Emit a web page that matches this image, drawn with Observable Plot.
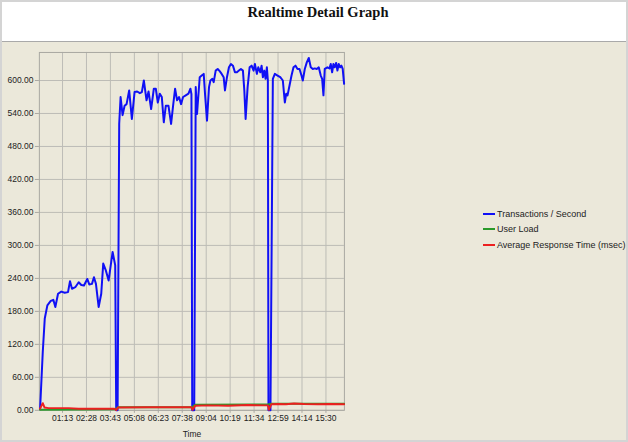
<!DOCTYPE html>
<html><head><meta charset="utf-8">
<script src="https://cdn.jsdelivr.net/npm/d3@7"></script>
<script src="https://cdn.jsdelivr.net/npm/@observablehq/plot@0.6"></script>
<style>
html,body{margin:0;padding:0;background:#fff;}
#frame{position:relative;width:628px;height:442px;box-sizing:border-box;border:2px solid #d4d4d4;background:#ebe8da;overflow:hidden;font-family:"Liberation Sans",Arial,sans-serif;}
#title{position:absolute;left:0;top:0;width:624px;height:39px;background:#fff;border-bottom:1px solid #a9a9a9;}
#title span{position:absolute;left:8px;right:0;top:3px;text-align:center;font:bold 14.5px/14.5px "Liberation Serif","Times New Roman",serif;color:#111;}
#chart{position:absolute;left:-2px;top:40px;}
#chart svg{background:transparent;}
#legend{position:absolute;left:481px;top:204px;font-size:9px;color:#222;}
.item{display:flex;align-items:center;height:15.5px;white-space:nowrap;}
.sw{width:12px;height:2px;margin-right:2px;}
</style>
</head><body>
<div id="frame">
  <div id="title"><span>Realtime Detail Graph</span></div>
  <div id="chart"></div>
  <div id="legend"></div>
</div>
<script>
// Sample index along the time axis, and values
const tpsTime = [0.75,2.1,3.1,4.4,6.1,7.4,8.4,9.75,11.4,13.1,14.75,15.75,16.75,18.4,20.1,21.4,22.75,24.4,25.4,26.75,27.75,28.75,30.1,31.4,32.4,33.75,35.1,36.4,37.1,38.4,38.9,39.6,40.4,41.1,42.1,43.1,44.1,45.4,46.75,48.1,49.4,50.75,51.75,52.75,54.1,55.1,56.4,57.75,58.75,59.75,60.75,61.75,62.75,63.75,65.1,66.4,67.4,68.4,69.4,70.4,71.4,72.4,73.75,75.1,76.1,76.6,77.0,78.0,78.75,79.4,80.75,81.75,82.75,83.4,84.4,85.4,86.1,87.1,87.75,88.75,89.75,90.75,91.75,92.75,93.4,94.4,95.4,96.4,97.4,98.4,99.4,100.4,101.4,102.4,103.1,103.75,104.75,105.75,106.75,107.75,108.4,109.4,110.1,111.1,111.75,112.4,113.1,113.75,114.4,114.9,115.2,116.2,117.4,118.4,119.75,121.1,122.4,123.4,124.1,124.75,125.75,126.75,127.75,128.75,129.75,130.75,131.75,132.4,133.4,134.4,135.4,136.4,137.4,138.4,139.4,140.4,141.4,142.1,142.75,143.4,144.75,145.75,146.4,147.1,147.75,148.4,149.1,149.75,150.4,151.1,151.75,152.4,153.1];
const tpsValue = [2,106,167,191,199,201,188,212,216,214,215,235,221,224,233,228,227,239,229,230,242,230,188,212,267,254,236,270,288,264,0,0,521,570,537,554,557,582,530,579,580,577,579,600,564,580,548,585,585,560,576,570,524,554,554,521,554,585,564,570,557,570,573,576,585,575,0,0,588,539,606,609,612,576,527,588,600,603,597,618,621,617,612,606,582,606,624,630,627,615,615,618,621,618,582,530,588,624,627,618,630,612,624,615,627,606,618,603,624,600,0,0,603,612,609,606,600,560,576,573,591,609,624,627,621,621,609,600,621,633,641,624,621,622,621,624,609,603,573,621,624,622,630,615,630,624,632,618,630,624,627,621,594];

const loadTime = [0.75,38.5,39.8,76.8,78.5,115,116.6,153.1];
const loadValue = [1,2,5.5,5.5,10,10.5,12,12];

const respTime = [0.75,2.1,3.0,5,15,20,38,38.9,39.8,55,76.6,77.2,78.5,85,95,105,114.9,115.4,116.6,120,124,128,133,140,146,153.1];
const respValue = [3,13,5,4,4,3,3,0.5,5,5.5,5.5,1,8.5,9,8.5,9.5,9,1,11,11.5,11,12.5,11.5,11,11.5,11];

const xTicks = [12,24,36,48,60,72,84,96,108,120,132,144];
const xTickLabels = ["01:13","02:28","03:43","05:08","06:23","07:38","09:04","10:19","11:34","12:59","14:14","15:30"];
const yTicks = [0,60,120,180,240,300,360,420,480,540,600];

const seriesNames = ["Transactions / Second","User Load","Average Response Time (msec)"];
const seriesColors = ["#1010f5","#2a9a2a","#ec2020"];

const tps = tpsTime.map((t,i)=>({t, v: tpsValue[i]}));
const load = loadTime.map((t,i)=>({t, v: loadValue[i]}));
const resp = respTime.map((t,i)=>({t, v: respValue[i]}));

const chart = Plot.plot({
  width: 628,
  height: 402,
  marginTop: 10,
  marginBottom: 33,
  marginLeft: 39,
  marginRight: 283,
  style: {fontFamily: '"Liberation Sans", Arial, sans-serif', fontSize: "8.5px", color: "#222", background: "transparent", overflow: "visible"},
  x: {domain: [0.4, 153.25]},
  y: {domain: [0, 651]},
  marks: [
    Plot.gridY(yTicks, {stroke: "#bdbcb6", strokeOpacity: 1}),
    Plot.gridX(xTicks, {stroke: "#bdbcb6", strokeOpacity: 1}),
    Plot.frame({stroke: "#a9a8a2"}),
    Plot.axisY(yTicks, {tickFormat: d3.format(".2f"), tickSize: 4, tickPadding: 2, stroke: "#a9a8a2", label: null}),
    Plot.axisX(xTicks, {tickFormat: (d, i) => xTickLabels[i], tickSize: 3, tickPadding: 2, stroke: "#a9a8a2", label: "Time", labelAnchor: "center", labelArrow: "none", labelOffset: 27, fontSize: "8.5px"}),
    Plot.line(tps, {x: "t", y: "v", stroke: seriesColors[0], strokeWidth: 2}),
    Plot.line(load, {x: "t", y: "v", stroke: seriesColors[1], strokeWidth: 2}),
    Plot.line(resp, {x: "t", y: "v", stroke: seriesColors[2], strokeWidth: 2})
  ]
});
document.getElementById("chart").appendChild(chart);

const legend = document.getElementById("legend");
seriesNames.forEach((name, i) => {
  const row = document.createElement("div");
  row.className = "item";
  const sw = document.createElement("span");
  sw.className = "sw";
  sw.style.background = seriesColors[i];
  const tx = document.createElement("span");
  tx.textContent = name;
  row.appendChild(sw); row.appendChild(tx);
  legend.appendChild(row);
});
</script>
</body></html>
